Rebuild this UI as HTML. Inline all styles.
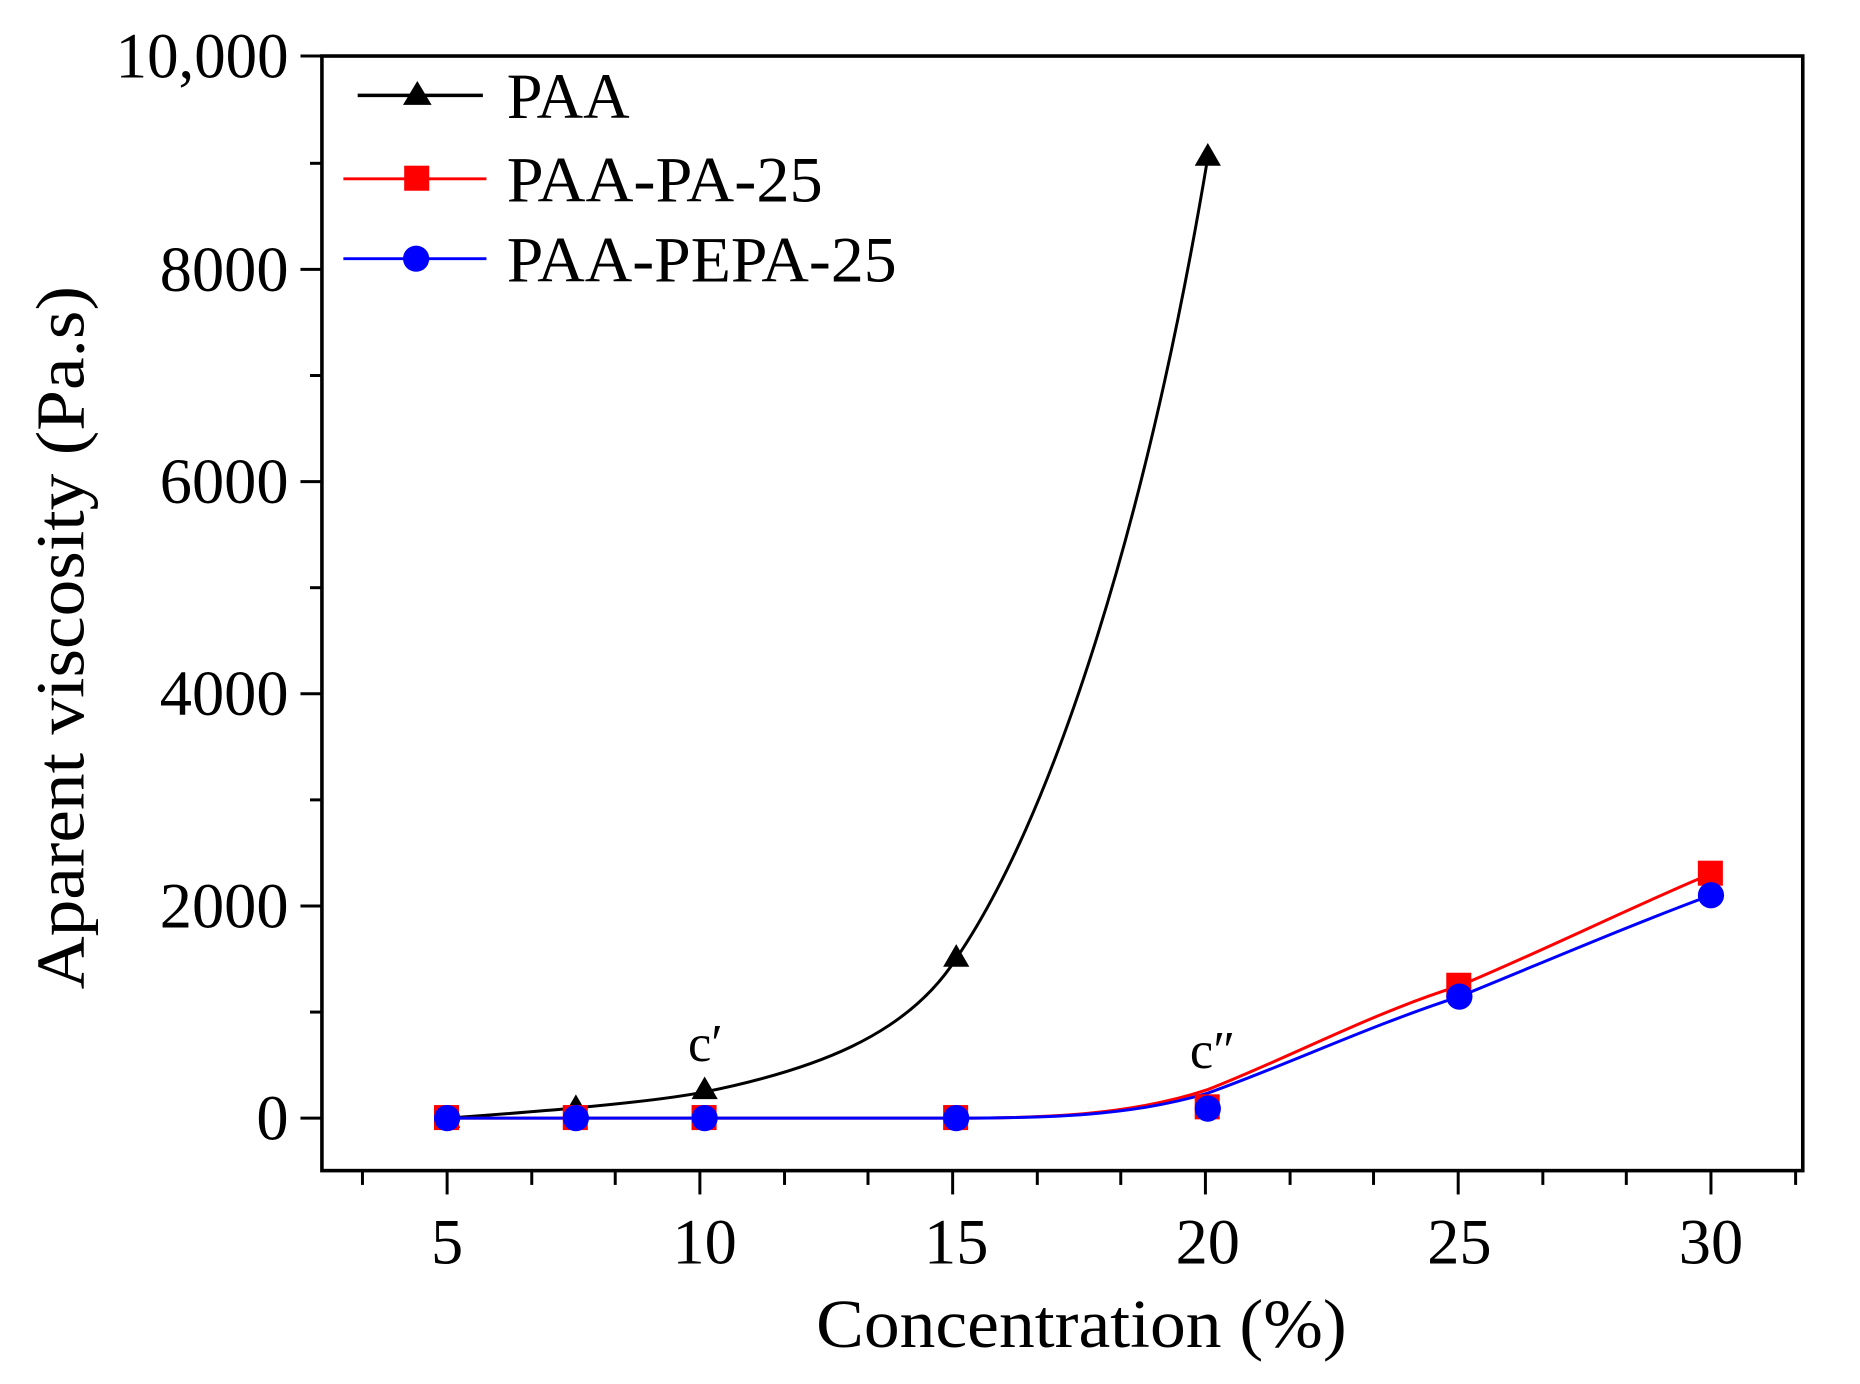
<!DOCTYPE html>
<html><head><style>html,body{margin:0;padding:0;background:#fff;width:1860px;height:1384px;overflow:hidden}</style></head>
<body>
<svg width="1860" height="1384" viewBox="0 0 1560 1161" preserveAspectRatio="none" xmlns="http://www.w3.org/2000/svg" font-family="Liberation Serif, serif">
<rect width="1560" height="1161" fill="#fff"/>
<rect x="270" y="47" width="1242" height="935" fill="none" stroke="#000" stroke-width="3"/>
<g stroke="#000" stroke-width="2.5">
<line x1="252" y1="938" x2="270" y2="938"/><line x1="252" y1="760" x2="270" y2="760"/><line x1="252" y1="582" x2="270" y2="582"/><line x1="252" y1="404" x2="270" y2="404"/><line x1="252" y1="226" x2="270" y2="226"/><line x1="252" y1="47" x2="270" y2="47"/>
<line x1="260" y1="849" x2="270" y2="849"/><line x1="260" y1="671" x2="270" y2="671"/><line x1="260" y1="493" x2="270" y2="493"/><line x1="260" y1="315" x2="270" y2="315"/><line x1="260" y1="137" x2="270" y2="137"/>
<line x1="375" y1="982" x2="375" y2="1002"/><line x1="587" y1="982" x2="587" y2="1002"/><line x1="799" y1="982" x2="799" y2="1002"/><line x1="1011" y1="982" x2="1011" y2="1002"/><line x1="1223" y1="982" x2="1223" y2="1002"/><line x1="1435" y1="982" x2="1435" y2="1002"/>
<line x1="304" y1="982" x2="304" y2="994"/><line x1="446" y1="982" x2="446" y2="994"/><line x1="516" y1="982" x2="516" y2="994"/><line x1="658" y1="982" x2="658" y2="994"/><line x1="728" y1="982" x2="728" y2="994"/><line x1="870" y1="982" x2="870" y2="994"/><line x1="940" y1="982" x2="940" y2="994"/><line x1="1082" y1="982" x2="1082" y2="994"/><line x1="1152" y1="982" x2="1152" y2="994"/><line x1="1294" y1="982" x2="1294" y2="994"/><line x1="1364" y1="982" x2="1364" y2="994"/><line x1="1506" y1="982" x2="1506" y2="994"/>
</g>
<g font-size="54" text-anchor="end" fill="#000">
<text x="242" y="956">0</text><text x="242" y="778">2000</text><text x="242" y="600">4000</text><text x="242" y="422">6000</text><text x="242" y="244">8000</text><text x="242" y="65" textLength="145" lengthAdjust="spacingAndGlyphs">10,000</text>
</g>
<g font-size="54" text-anchor="middle" fill="#000">
<text x="375" y="1060">5</text><text x="591" y="1060">10</text><text x="802" y="1060">15</text><text x="1013" y="1060">20</text><text x="1224" y="1060">25</text><text x="1435" y="1060">30</text>
</g>
<text x="907" y="1130" font-size="58" text-anchor="middle" textLength="445" lengthAdjust="spacingAndGlyphs">Concentration (%)</text>
<text transform="translate(70,535) rotate(-90)" font-size="58" text-anchor="middle" textLength="590" lengthAdjust="spacingAndGlyphs">Aparent viscosity (Pa.s)</text>
<text x="577" y="890" font-size="44">c′</text>
<text x="998" y="896" font-size="44">c″</text>
<path d="M375,938 C430,934 540,926 591,916 C680,898 760,870 802,804 C880,690 960,450 1013,132" fill="none" stroke="#000" stroke-width="2.5"/>
<path d="M375,938 L802,938 C880,938 950,935 1013,914 C1080,888 1150,850 1224,827 C1300,795 1370,760 1435,733" fill="none" stroke="#f00" stroke-width="2.5"/>
<path d="M375,938 L802,938 C880,938 950,936 1013,917 C1080,893 1150,860 1224,836 C1300,805 1370,775 1435,751" fill="none" stroke="#00f" stroke-width="2.5"/>
<g fill="#000">
<polygon points="375,927 386,946 364,946"/><polygon points="483,918 494,937 472,937"/><polygon points="591,903 602,922 580,922"/><polygon points="802,792 813,811 791,811"/><polygon points="1013,120 1024,139 1002,139"/>
</g>
<g fill="#f00">
<rect x="364" y="927" width="21" height="21"/><rect x="472" y="927" width="21" height="21"/><rect x="580" y="927" width="21" height="21"/><rect x="791" y="927" width="21" height="21"/><rect x="1002" y="918" width="21" height="21"/><rect x="1213" y="816" width="21" height="21"/><rect x="1424" y="722" width="21" height="21"/>
</g>
<g fill="#00f">
<circle cx="375" cy="938" r="11"/><circle cx="483" cy="938" r="11"/><circle cx="591" cy="938" r="11"/><circle cx="802" cy="938" r="11"/><circle cx="1013" cy="930" r="11"/><circle cx="1224" cy="836" r="11"/><circle cx="1435" cy="751" r="11"/>
</g>
<line x1="300" y1="80" x2="405" y2="80" stroke="#000" stroke-width="3"/><polygon points="350,68 362,88 338,88" fill="#000"/>
<text x="425" y="99" font-size="54">PAA</text>
<line x1="288" y1="150" x2="408" y2="150" stroke="#f00" stroke-width="2.5"/><rect x="339" y="139" width="21" height="21" fill="#f00"/>
<text x="425" y="169" font-size="54" textLength="265" lengthAdjust="spacingAndGlyphs">PAA-PA-25</text>
<line x1="288" y1="217" x2="408" y2="217" stroke="#00f" stroke-width="2.5"/><circle cx="349" cy="217" r="11" fill="#00f"/>
<text x="425" y="236" font-size="54" textLength="327" lengthAdjust="spacingAndGlyphs">PAA-PEPA-25</text>
</svg>
</body></html>
